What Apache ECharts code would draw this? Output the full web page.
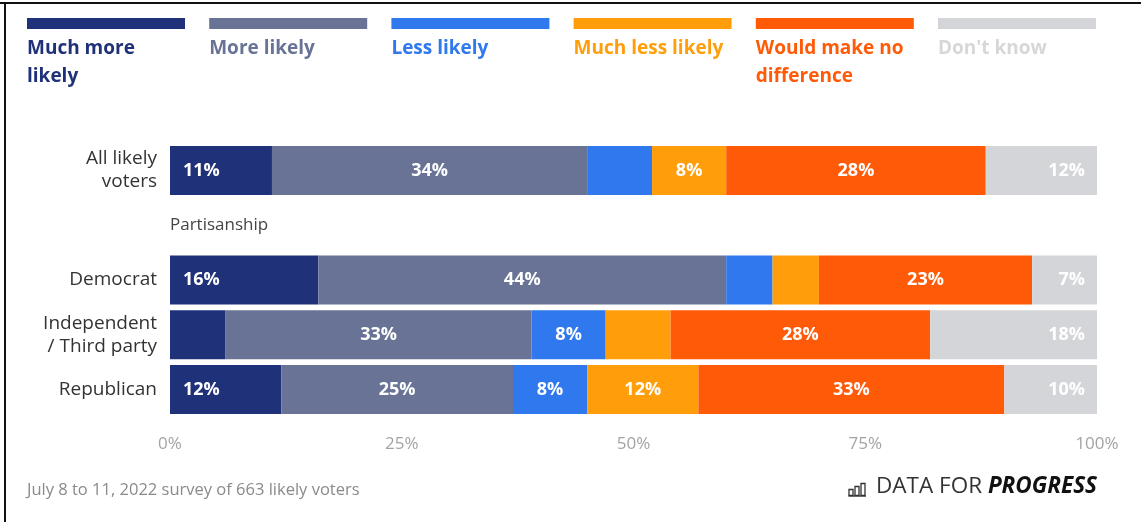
<!DOCTYPE html>
<html>
<head>
<meta charset="utf-8">
<script src="https://cdn.jsdelivr.net/npm/echarts@6/dist/echarts.min.js"></script>
<style>
  html, body { margin: 0; padding: 0; background: #fff; }
  #chart { width: 1141px; height: 522px; }
</style>
</head>
<body>
<div id="chart"></div>
<script>
// Rows of the chart (the second row is the "Partisanship" heading, no bar)
const rows = ['All likely voters', 'Partisanship', 'Democrat', 'Independent / Third party', 'Republican'];
const rowLabels = ['All likely\nvoters', '', 'Democrat', 'Independent\n/ Third party', 'Republican'];
const headingRow = 'Partisanship';

const seriesNames = ['Much more likely', 'More likely', 'Less likely', 'Much less likely', 'Would make no difference', "Don't know"];
const legendLabels = ['Much more\nlikely', 'More likely', 'Less likely', 'Much less likely', 'Would make no\ndifference', "Don't know"];
const seriesColors = ['#1f3178', '#687396', '#2f78ee', '#ff9e0a', '#ff5a08', '#d4d5d8'];
const legendTextColors = ['#1f3178', '#687396', '#2f78ee', '#ff9e0a', '#ff5a08', '#d6d7d9'];

// Share of respondents (%) per row, in row order
const muchMoreLikely   = [11, null, 16, 6, 12];
const moreLikely       = [34, null, 44, 33, 25];
const lessLikely       = [7, null, 5, 8, 8];
const muchLessLikely   = [8, null, 5, 7, 12];
const noDifference     = [28, null, 23, 28, 33];
const dontKnow         = [12, null, 7, 18, 10];
const seriesValues = [muchMoreLikely, moreLikely, lessLikely, muchLessLikely, noDifference, dontKnow];

// Segments printed without a value label
const unlabelled = {
  'Much more likely': ['Independent / Third party'],
  'Less likely': ['All likely voters', 'Democrat'],
  'Much less likely': ['Democrat', 'Independent / Third party']
};

const xTicks = [0, 25, 50, 75, 100];
const footnote = 'July 8 to 11, 2022 survey of 663 likely voters';

const FONT = '"Open Sans", "Noto Sans", sans-serif';

const chart = echarts.init(document.getElementById('chart'), null, { renderer: 'canvas' });

const series = seriesNames.map((name, si) => {
  const hidden = unlabelled[name] || [];
  let position = 'inside', distance = 5;
  if (si === 0) { position = 'insideLeft'; distance = 13; }
  if (si === seriesNames.length - 1) { position = 'insideRight'; distance = 12; }
  return {
    name: name,
    type: 'bar',
    stack: 'total',
    barWidth: 49,
    itemStyle: { color: seriesColors[si] },
    label: {
      show: true,
      position: position,
      distance: distance,
      color: '#ffffff',
      fontFamily: FONT,
      fontWeight: 'bold',
      fontSize: 18,
      formatter: p => (p.value == null ? '' : p.value + '%')
    },
    emphasis: { disabled: true },
    data: seriesValues[si].map((v, ri) => (
      hidden.indexOf(rows[ri]) >= 0 ? { value: v, label: { show: false } } : v
    ))
  };
});

// Legend drawn as a bar swatch with the name beneath it
const legendGraphics = [];
seriesNames.forEach((name, i) => {
  const x = 27 + i * 182.2;
  legendGraphics.push({
    type: 'rect', left: x, top: 18,
    shape: { width: 158, height: 11 },
    style: { fill: seriesColors[i] }, silent: true
  });
  legendGraphics.push({
    type: 'text', left: x, top: 35,
    style: {
      text: legendLabels[i], fill: legendTextColors[i],
      font: 'bold 19px ' + FONT, lineHeight: 28
    }, silent: true
  });
});

// Small bar-chart mark next to the wordmark
const logoIcon = {
  type: 'group', left: 846, top: 481,
  children: [
    { type: 'rect', shape: { x: 0.5, y: 6.5, width: 4, height: 6 }, style: { fill: 'none', stroke: '#333', lineWidth: 1.3 } },
    { type: 'rect', shape: { x: 6.5, y: 3.5, width: 4, height: 9 }, style: { fill: 'none', stroke: '#333', lineWidth: 1.3 } },
    { type: 'rect', shape: { x: 12.5, y: 0.5, width: 4, height: 12 }, style: { fill: 'none', stroke: '#333', lineWidth: 1.3 } },
    { type: 'line', shape: { x1: 0, y1: 13, x2: 17.5, y2: 13 }, style: { stroke: '#333', lineWidth: 1.3 } }
  ]
};

chart.setOption({
  animation: false,
  backgroundColor: '#ffffff',
  grid: { left: 170, right: 44, top: 143, bottom: 105, containLabel: false },
  xAxis: {
    type: 'value', min: xTicks[0], max: xTicks[xTicks.length - 1], interval: 25,
    axisLine: { show: false }, axisTick: { show: false }, splitLine: { show: false },
    axisLabel: {
      margin: 19, color: '#a3a3a3', fontFamily: FONT, fontSize: 17,
      formatter: '{value}%'
    }
  },
  yAxis: {
    type: 'category', inverse: true, data: rows,
    axisLine: { show: false }, axisTick: { show: false }, splitLine: { show: false },
    axisLabel: {
      margin: 13, color: '#333333', fontFamily: FONT, fontSize: 19, lineHeight: 23,
      formatter: (v, i) => rowLabels[i]
    }
  },
  series: series,
  graphic: legendGraphics.concat([
    {
      type: 'text', left: 27, top: 482,
      style: { text: footnote, fill: '#8a8a8a', font: '16.5px ' + FONT }, silent: true
    },
    logoIcon,
    {
      type: 'text', right: 44, top: 475,
      style: {
        text: '{a|DATA FOR }{b|PROGRESS}',
        rich: {
          a: { fontFamily: FONT, fontSize: 22.5, fill: '#333333', fontWeight: 'normal' },
          b: { fontFamily: FONT, fontSize: 22.5, fill: '#111111', fontWeight: 'bold', fontStyle: 'italic' }
        }
      }, silent: true
    },
    // frame lines along the top and left edges
    { type: 'line', shape: { x1: 0, y1: 3, x2: 1141, y2: 3 }, style: { stroke: '#111', lineWidth: 2 }, silent: true },
    { type: 'line', shape: { x1: 5, y1: 3, x2: 5, y2: 522 }, style: { stroke: '#111', lineWidth: 2 }, silent: true }
  ])
});

// Section heading sits at the start of the plot, on its own row
const headY = chart.convertToPixel({ yAxisIndex: 0 }, headingRow);
const headX = chart.convertToPixel({ xAxisIndex: 0 }, 0);
chart.getZr().add(new echarts.graphic.Text({
  x: headX, y: headY,
  style: { text: headingRow, fill: '#444444', font: '17px ' + FONT, verticalAlign: 'middle', align: 'left' },
  silent: true
}));
</script>
</body>
</html>
